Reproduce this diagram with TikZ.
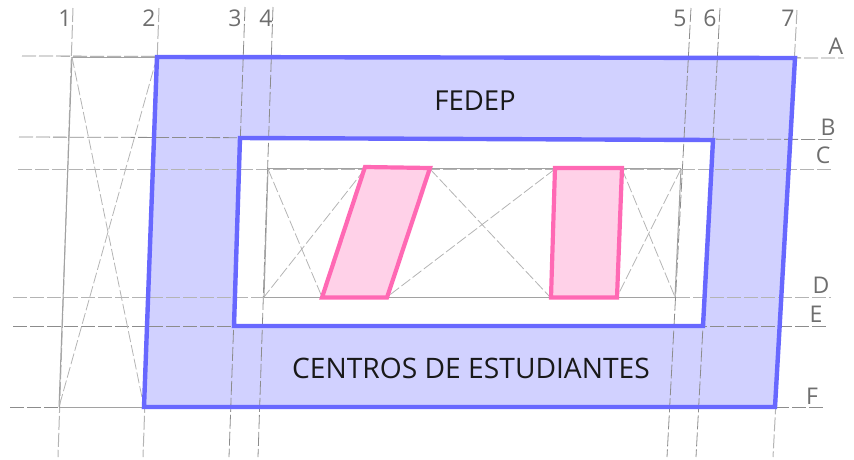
\documentclass[tikz,border=0pt]{standalone}
\usepackage{fontspec}
\setmainfont{Open Sans}
\definecolor{bandfill}{HTML}{D1D1FF}
\definecolor{bandline}{HTML}{6868FF}
\definecolor{pinkfill}{HTML}{FFD1E8}
\definecolor{pinkline}{HTML}{FF69B4}
\definecolor{axisgray}{HTML}{8C8C8C}
\definecolor{lightgray}{HTML}{B4B4B4}
\definecolor{labelgray}{HTML}{6E6E6E}
\tikzset{
  gridaxis/.style={draw=axisgray,line width=0.8pt,dash pattern=on 14pt off 3pt},
  gridlight/.style={draw=lightgray,line width=1pt,dash pattern=on 14pt off 3pt},
  diag/.style={draw=lightgray,line width=0.8pt,dash pattern=on 11pt off 3pt},
  solidgrid/.style={draw=lightgray!90!black,line width=1pt},
  axislabel/.style={text=labelgray,font=\fontsize{23}{23}\selectfont,inner sep=0pt},
  bandtext/.style={text=black!90,font=\fontsize{28.2}{28.2}\selectfont,inner sep=0pt},
  band/.style={draw=bandline,line width=4.4pt,line join=miter},
  pinkwall/.style={draw=pinkline,fill=pinkfill,line width=4.2pt,line join=miter}
}
\begin{document}
\begin{tikzpicture}[x=1pt,y=-1pt]
\useasboundingbox (0,0) rectangle (854,459);
% coordinates of the outer band
\coordinate (oa) at (157,57); \coordinate (ob) at (795,58);
\coordinate (oc) at (775,407); \coordinate (od) at (144,407);
\coordinate (ia) at (240,138); \coordinate (ib) at (713,140);
\coordinate (ic) at (703,326); \coordinate (id) at (234,326);
% band fill
\fill[bandfill,even odd rule] (oa)--(ob)--(oc)--(od)--cycle (ia)--(ib)--(ic)--(id)--cycle;
% vertical axes
\draw[gridlight] (73,8)--(58,457);
\draw[gridlight] (159,8)--(143,457);
\draw[gridaxis] (245,7)--(229,457);
\draw[gridaxis] (273,7)--(258,457);
\draw[gridaxis] (691,8)--(667,457);
\draw[gridaxis] (720,8)--(696,457);
\draw[gridlight] (797,10)--(773,457);
% horizontal axes
\draw[gridaxis] (22,56)--(844,58);
\draw[gridaxis] (19,137)--(834,139.5);
\draw[gridlight] (18,169)--(833,169);
\draw[gridlight] (13,297)--(831,297);
\draw[gridaxis] (13,326)--(828,326);
\draw[gridaxis] (10,407)--(825,407);
% solid grid portions
\draw[solidgrid] (72,57)--(157,57);
\draw[solidgrid] (72,57)--(59,407);
\draw[solidgrid] (59,407)--(144,407);
\draw[solidgrid] (268,168.500)--(681,168.500);
\draw[solidgrid] (268,168.500)--(264,297);
\draw[solidgrid] (681,168.500)--(675,297);
\draw[solidgrid] (264,297)--(675,297);
% diagonals
\draw[diag] (72,57)--(144,407);
\draw[diag] (157,57)--(59,407);
\draw[diag] (268,169)--(322,297);
\draw[diag] (365,169)--(264,297);
\draw[diag] (430,169)--(550,297);
\draw[diag] (555,169)--(387,297);
\draw[diag] (622,169)--(675,297);
\draw[diag] (681,169)--(617,297);
% band outlines
\draw[band] (oa)--(ob)--(oc)--(od)--cycle;
\draw[band] (ia)--(ib)--(ic)--(id)--cycle;
% pink walls
\draw[pinkwall] (365,167)--(430,168)--(387,297.500)--(322,297.500)--cycle;
\draw[pinkwall] (555,168)--(622,168)--(617,297.500)--(551,297.500)--cycle;
% texts
\node[bandtext,font=\fontsize{27.5}{27.5}\selectfont] (fedep) at (475,101) {FEDEP};
\node[bandtext] (centros) at (471,368) {CENTROS DE ESTUDIANTES};
\node[axislabel] (n1) at (65,18) {1};
\node[axislabel] (n2) at (149,18) {2};
\node[axislabel] (n3) at (235,18) {3};
\node[axislabel] (n4) at (266,18) {4};
\node[axislabel] (n5) at (680,18) {5};
\node[axislabel] (n6) at (710,18) {6};
\node[axislabel] (n7) at (788,18) {7};
\node[axislabel] (la) at (836,46) {A};
\node[axislabel] (lb) at (828,127) {B};
\node[axislabel] (lc) at (823,155.500) {C};
\node[axislabel] (ld) at (821,285) {D};
\node[axislabel] (le) at (816,314) {E};
\node[axislabel] (lf) at (812,396) {F};
\end{tikzpicture}
\end{document}
